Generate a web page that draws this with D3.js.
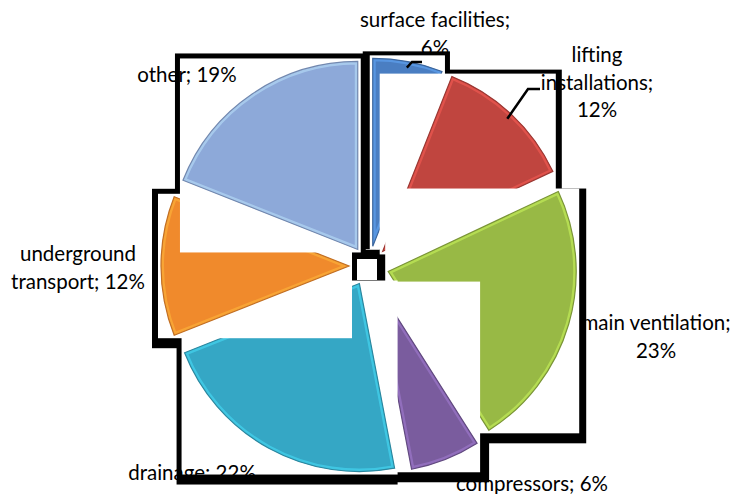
<!DOCTYPE html>
<html><head><meta charset="utf-8">
<script src="https://cdn.jsdelivr.net/npm/d3@7"></script>
<style>body{margin:0;background:#fff}svg{display:block}</style>
</head><body>
<svg id="c" width="732" height="494"></svg>
<script>
// ---- data ----
const categories = ["surface facilities", "lifting installations", "main ventilation", "compressors", "drainage", "underground transport", "other"];
const values = [6, 12, 23, 6, 22, 12, 19];
const labelLines = [
  ["surface facilities;", "6%"],
  ["lifting", "installations;", "12%"],
  ["main ventilation;", "23%"],
  ["compressors; 6%"],
  ["drainage; 22%"],
  ["underground", "transport; 12%"],
  ["other; 19%"]
];
const colors = ["#4A7EC2", "#C0453F", "#98B945", "#7A5C9E", "#35A7C5", "#F08A2C", "#8DA9D9"];

// ---- layout ----
const W = 732, H = 494;
const cx = 369, cy = 266, R = 188, explode = 20, pad = 3;
const labelPos = [[435, 27], [597, 62], [656, 330], [532, 491], [192, 480], [78, 261], [187, 82]];
const lineH = 27.5;
// box "shadow" extents beyond each slice's white box: top, right, bottom, left
const shadowExt = [
  {t:4, r:5, b:0, l:7},
  {t:4, r:6, b:0, l:0},
  {t:0, r:7, b:10, l:0},
  {t:0, r:9, b:10, l:0},
  {t:0, r:0, b:10, l:5},
  {t:5, r:0, b:10, l:6},
  {t:5, r:5, b:0, l:5}
];
// leader lines: [slice index, elbow, end]
const leaders = [
  {i:0, elbow:[412, 62], end:[422, 62]},
  {i:1, elbow:[528, 89], end:[540, 89]}
];

const svg = d3.select("#c");
const defs = svg.append("defs");
const gShadow = svg.append("g");
const gSlices = svg.append("g");
const gLabels = svg.append("g");

const pieData = d3.pie().sort(null).value(d => d)(values);
const arc = d3.arc().innerRadius(0).outerRadius(R);

// center gap frame
gShadow.append("rect").attr("x", cx - 22).attr("y", cy - 16).attr("width", 40).attr("height", 34).attr("fill", "#000");
gShadow.append("rect").attr("x", cx - 12).attr("y", cy - 7).attr("width", 20).attr("height", 21).attr("fill", "#fff");

const apexes = [];
pieData.forEach((p, i) => {
  const mid = (p.startAngle + p.endAngle) / 2;
  const ax = cx + explode * Math.sin(mid), ay = cy - explode * Math.cos(mid);
  apexes.push([ax, ay, mid]);
  const g = gSlices.append("g");
  const white = g.append("rect").attr("fill", "#fff");
  const sg = g.append("g").attr("transform", `translate(${ax},${ay})`);
  const d = arc(p);
  defs.append("clipPath").attr("id", "clip" + i).append("path").attr("d", d);
  const base = d3.color(colors[i]);
  sg.append("path").attr("d", d).attr("fill", colors[i]);
  // bevel highlight
  sg.append("path").attr("d", d).attr("fill", "none")
    .attr("stroke", base.brighter(0.9)).attr("stroke-width", 6).attr("stroke-opacity", 0.5)
    .attr("clip-path", `url(#clip${i})`);
  sg.append("path").attr("d", d).attr("fill", "none")
    .attr("stroke", base.darker(0.6)).attr("stroke-width", 1.2);
  const bb = sg.select("path").node().getBBox();
  const x0 = ax + bb.x - pad, y0 = ay + bb.y - pad, w = bb.width + 2 * pad, h = bb.height + 2 * pad;
  white.attr("x", x0).attr("y", y0).attr("width", w).attr("height", h);
  const s = shadowExt[i];
  gShadow.append("rect")
    .attr("x", x0 - s.l).attr("y", y0 - s.t)
    .attr("width", w + s.l + s.r).attr("height", h + s.t + s.b)
    .attr("fill", "#000");
});

// labels
labelLines.forEach((lines, i) => {
  const t = gLabels.append("text")
    .attr("x", labelPos[i][0]).attr("y", labelPos[i][1])
    .attr("text-anchor", "middle")
    .attr("font-family", "Lato, 'Open Sans', sans-serif")
    .attr("font-size", 20.5).attr("fill", "#000");
  lines.forEach((l, k) => t.append("tspan").attr("x", labelPos[i][0]).attr("y", labelPos[i][1] + k * lineH).text(l));
});

// leaders
leaders.forEach(L => {
  const [ax, ay, mid] = apexes[L.i];
  const r = R - 6;
  const sx = ax + r * Math.sin(mid), sy = ay - r * Math.cos(mid);
  gLabels.append("path")
    .attr("d", d3.line()([[sx, sy], L.elbow, L.end]))
    .attr("fill", "none").attr("stroke", "#000").attr("stroke-width", 2.5);
});
</script>
</body></html>
